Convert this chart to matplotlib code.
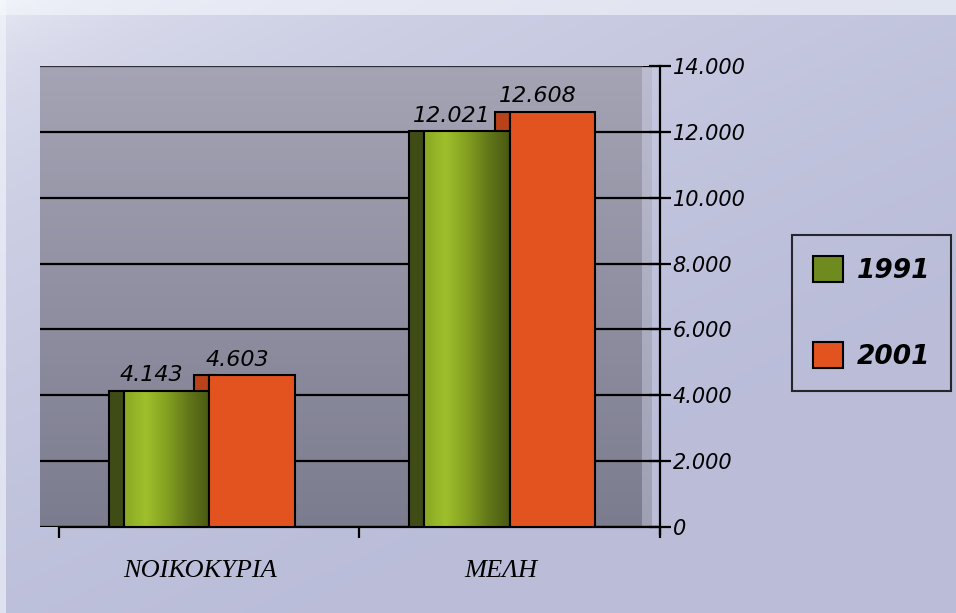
import numpy as np
import matplotlib
matplotlib.use("Agg")
import matplotlib.pyplot as plt
from matplotlib.patches import Rectangle, Patch
from matplotlib.colors import LinearSegmentedColormap

# data
categories = ["ΝΟΙΚΟΚΥΡΙΑ", "ΜΕΛΗ"]
years = ["1991", "2001"]
values_1991 = [4143, 12021]
values_2001 = [4603, 12608]
yticks = [0, 2000, 4000, 6000, 8000, 10000, 12000, 14000]
ytick_labels = ["0", "2.000", "4.000", "6.000", "8.000", "10.000", "12.000", "14.000"]
value_labels_1991 = ["4.143", "12.021"]
value_labels_2001 = ["4.603", "12.608"]

W, H = 956, 613
fig = plt.figure(figsize=(W / 100, H / 100), dpi=100)

# page background (scanned, lighter top-left)
bg = fig.add_axes([0, 0, 1, 1], zorder=-5)
yy, xx = np.mgrid[0:1:200j, 0:1:300j]
t = np.clip(0.6 * xx + 0.8 * yy, 0, 1) ** 0.3
t[:, :2] *= 0.4
t[:5, :] *= 0.4
light = np.array([0.96, 0.97, 0.99])
dark = np.array([0.73, 0.74, 0.85])
img = light[None, None, :] * (1 - t[..., None]) + dark[None, None, :] * t[..., None]
bg.imshow(img, extent=[0, 1, 0, 1], aspect="auto", origin="upper")
bg.axis("off")

# main axes: x 40..660 px, y 66..527 px
ax = fig.add_axes([40 / W, (H - 527) / H, 620 / W, 461 / H])
ax.set_facecolor("none")
xmin, xmax = -0.563, 1.49
ax.set_xlim(xmin, xmax)
ax.set_ylim(0, 14000)

width = 0.285
depth = 0.05
wall_right = xmax - depth
strip_right = xmax - 0.017

# plot area wall gradient (lighter at the top)
wall_cmap = LinearSegmentedColormap.from_list("wall", ["#a4a4b5", "#7c7c8f"])
grad = np.linspace(0, 1, 256).reshape(-1, 1)
ax.imshow(grad, cmap=wall_cmap, extent=[xmin, wall_right, 0, 14000],
          aspect="auto", zorder=0, origin="upper")
strip_cmap = LinearSegmentedColormap.from_list("strip", ["#bcbcd0", "#a0a0b4"])
ax.imshow(grad, cmap=strip_cmap, extent=[wall_right, strip_right, 0, 14000],
          aspect="auto", zorder=0, origin="upper")
ax.plot([xmin, wall_right], [14000, 14000], color="#3a3a48", lw=1.2, zorder=1)

ax.set_yticks(yticks)
ax.set_yticklabels(ytick_labels)
ax.yaxis.tick_right()
ax.grid(axis="y", color="black", lw=1.6, zorder=1)
ax.set_axisbelow(True)
ax.tick_params(axis="y", direction="inout", length=16, width=1.6, pad=1,
               labelsize=15, colors="black")
for lab in ax.get_yticklabels():
    lab.set_fontstyle("italic")

ax.set_xticks([-0.5, 0.5, 1.5])
ax.set_xticklabels([])
ax.tick_params(axis="x", direction="out", length=8, width=1.6)
ax.spines["left"].set_visible(False)
ax.spines["top"].set_visible(False)
ax.spines["right"].set_linewidth(1.6)
ax.spines["right"].set_bounds(-200, 14000)
ax.spines["bottom"].set_linewidth(1.6)
ax.spines["bottom"].set_bounds(-0.5, xmax)

green_cmap = LinearSegmentedColormap.from_list(
    "green", ["#8aa822", "#a0bf2c", "#84a020", "#62771a", "#4a5812"])
hgrad = np.linspace(0, 1, 256).reshape(1, -1)

x = np.arange(len(categories))
for i in x:
    g = values_1991[i]
    o = values_2001[i]
    # orange side (mostly hidden by green front)
    ax.add_patch(Rectangle((i - depth, 0), depth, o, facecolor="#b8421a",
                           edgecolor="black", lw=1.5, zorder=2))
    # green side
    ax.add_patch(Rectangle((i - width - depth, 0), depth, g, facecolor="#3f4c16",
                           edgecolor="black", lw=1.5, zorder=3))
    # green front with gradient
    front = Rectangle((i - width, 0), width, g, facecolor="none",
                      edgecolor="black", lw=1.5, zorder=5)
    ax.add_patch(front)
    im = ax.imshow(hgrad, cmap=green_cmap, extent=[i - width, i, 0, g],
                   aspect="auto", zorder=4)
    im.set_clip_path(front)
    # orange front
    ax.add_patch(Rectangle((i, 0), width, o, facecolor="#e2531f",
                           edgecolor="black", lw=1.5, zorder=5))
    ax.annotate(value_labels_1991[i], (i - width / 2 - depth, g),
                xytext=(0, 4), textcoords="offset points", ha="center",
                va="bottom", fontsize=16, fontstyle="italic", zorder=6)
    ax.annotate(value_labels_2001[i], (i + width / 2 - depth, o),
                xytext=(0, 4), textcoords="offset points", ha="center",
                va="bottom", fontsize=16, fontstyle="italic", zorder=6)
    ax.text(i - 0.03, -1000, categories[i], ha="center", va="top",
            fontsize=19, fontstyle="italic", family="Liberation Serif")

# legend
handles = [Patch(facecolor="#6f8a1e", edgecolor="black", lw=1.5),
           Patch(facecolor="#e2531f", edgecolor="black", lw=1.5)]
leg = fig.legend(handles, years, loc="upper left",
                 bbox_to_anchor=(792 / W, 1 - 235 / H),
                 prop={"size": 19, "style": "italic", "weight": "bold"},
                 frameon=True, fancybox=False, edgecolor="black",
                 handlelength=1.15, handleheight=1.15, handletextpad=0.5,
                 labelspacing=2.2, borderpad=0.8, borderaxespad=0)
leg.get_frame().set_facecolor("none")
leg.get_frame().set_linewidth(1.5)

fig.savefig("out.png", dpi=100)
